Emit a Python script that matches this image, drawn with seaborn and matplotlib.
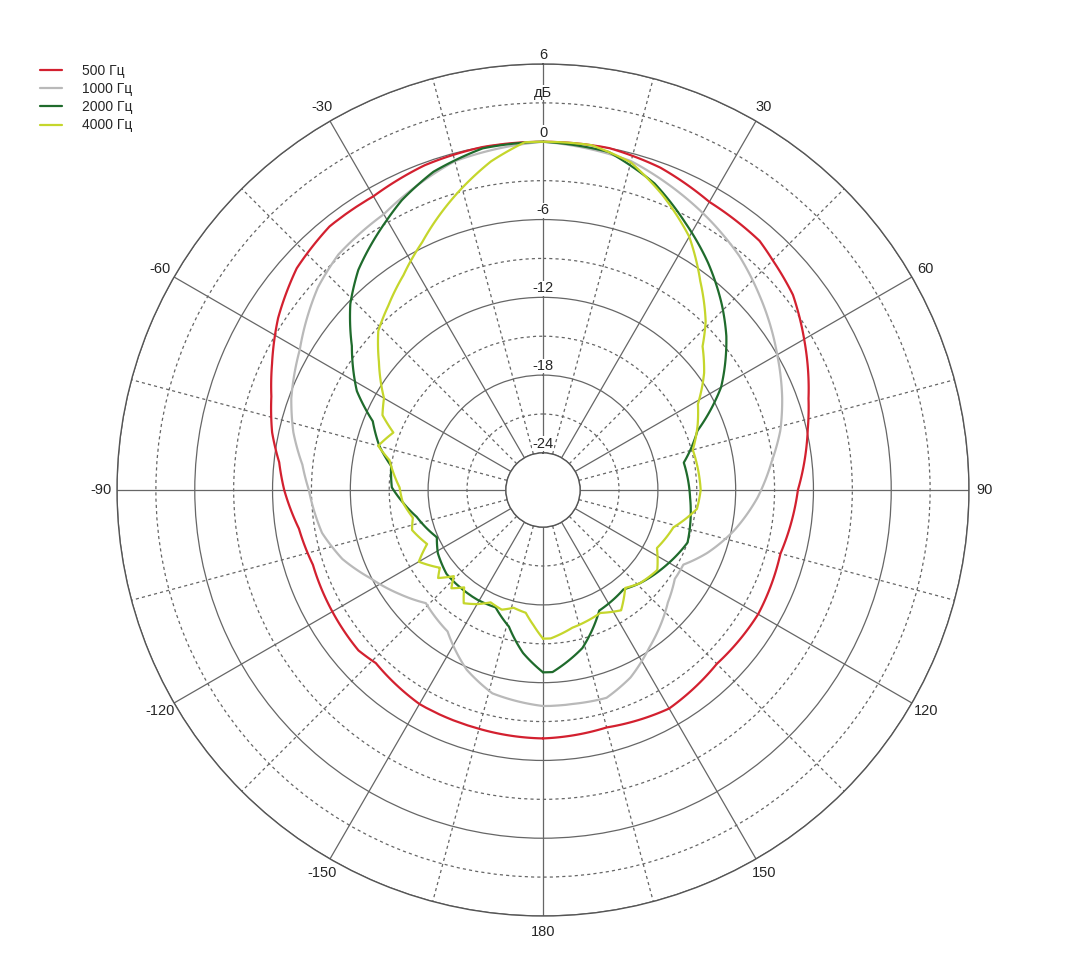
import numpy as np
import pandas as pd
import matplotlib
matplotlib.use('Agg')
import matplotlib.pyplot as plt
import seaborn as sns
from matplotlib.ticker import FixedLocator

# polar response, angle in degrees, level in dB
ang_500 = [-180, -164, -150, -136, -131, -120, -108, -99, -90, -84, -78, -71, -65, -57,
           -48, -39, -30, -20, -10, 0, 11, 20, 25, 30, 41, 45, 52, 60, 71, 77, 90, 105,
           120, 135, 150, 165, 180]
db_500 = [-7.7, -7.8, -7.8, -8.3, -8.0, -8.1, -8.2, -7.8, -6.9, -6.4, -5.5, -4.7, -3.8, -2.5,
          -1.3, -0.7, -0.7, -0.2, 0.0, 0.0, 0.0, -0.4, -0.8, -1.2, -1.4, -1.8, -2.4, -3.6,
          -5.2, -5.9, -7.2, -7.9, -7.7, -7.9, -7.4, -7.9, -7.7]

ang_1000 = [-180, -166, -157, -146, -134, -126, -117, -109, -101, -90, -84, -77, -70, -60,
            -48, -41, -30, -15, 0, 15, 30, 40, 48, 60, 69, 76, 83, 92, 102, 111, 118, 124,
            132, 146, 155, 163, 172, 180]
db_1000 = [-10.2, -10.7, -11.8, -13.7, -14.3, -13.2, -11.9, -10.5, -9.5, -8.8, -8.2, -7.1,
           -6.2, -5.2, -3.5, -2.8, -2.3, -0.6, 0.0, -0.6, -2.2, -3.3, -4.4, -6.0, -7.1, -8.0,
           -9.1, -10.3, -11.8, -13.3, -14.6, -14.6, -13.9, -12.2, -10.9, -10.1, -10.2, -10.2]

ang_2000 = [-180, -173, -166, -158, -149, -139, -131, -121, -114, -102, -95, -89, -81, -75,
            -68, -62, -53, -46, -40, -30, -26, -19, -10, 0, 11, 20, 28, 36, 44, 50, 60, 69,
            79, 93, 110, 121, 134, 141, 155, 166, 177, 180]
db_2000 = [-12.8, -14.2, -16.0, -17.1, -17.0, -17.0, -17.0, -17.4, -17.9, -16.9, -16.0,
           -15.2, -15.0, -13.8, -12.7, -10.6, -8.4, -6.2, -4.7, -2.8, -2.0, -0.9, -0.1, 0.0,
           -0.3, -1.7, -3.5, -5.2, -7.0, -8.4, -11.0, -14.1, -15.8, -15.5, -15.0, -15.7,
           -16.5, -17.0, -16.6, -14.3, -12.8, -12.8]

ang_4000 = [-180, -176, -172, -166, -161, -155, -150, -145, -141, -137, -134, -130, -127,
            -120, -115, -107, -102, -95, -89, -79, -75, -69, -65, -60, -52, -46, -40, -33,
            -26, -21, -16, -9, -3, 0, 8, 15, 22, 30, 37, 44, 48, 54, 61, 67, 75, 90, 97, 106,
            117, 125, 134, 140, 147, 155, 168, 177, 180]
db_4000 = [-15.4, -16.4, -17.3, -17.5, -17.1, -17.3, -16.7, -16.2, -17.2, -16.5, -17.3,
           -16.3, -16.9, -15.8, -17.0, -16.3, -16.6, -16.0, -15.8, -14.8, -13.7, -14.5,
           -13.2, -12.7, -10.8, -9.2, -8.3, -7.1, -5.6, -4.3, -3.0, -1.2, 0.0, 0.0, 0.0,
           -0.7, -2.3, -4.3, -6.7, -8.8, -10.3, -11.5, -13.2, -13.9, -14.9, -14.7, -14.9,
           -16.4, -17.0, -16.1, -16.5, -17.0, -15.8, -16.4, -16.0, -15.4, -15.4]

freqs = ['500 Гц', '1000 Гц', '2000 Гц', '4000 Гц']
colors = {'500 Гц': '#d3202f', '1000 Гц': '#b9b9b9', '2000 Гц': '#1f6b2c', '4000 Гц': '#c5d62c'}

theta_labels = ['', '30', '60', '90', '120', '150', '180', '-150', '-120', '-90', '-60', '-30']
r_ticks = [-24, -18, -12, -6, 0, 6]
r_minor = [-21, -15, -9, -3, 3]

frames = []
for f, a, d in zip(freqs, [ang_500, ang_1000, ang_2000, ang_4000],
                   [db_500, db_1000, db_2000, db_4000]):
    frames.append(pd.DataFrame({'theta': np.deg2rad(a), 'db': d, 'freq': f}))
df = pd.concat(frames, ignore_index=True)

sns.set_style('white')
plt.rcParams['font.family'] = ['Liberation Sans', 'DejaVu Sans']

fig = plt.figure(figsize=(10.73, 9.77), dpi=100)
ax = fig.add_axes([117 / 1073, 1 - 916 / 977, 852 / 1073, 852 / 977], projection='polar')
ax.set_theta_zero_location('N')
ax.set_theta_direction(-1)

sns.lineplot(data=df, x='theta', y='db', hue='freq', hue_order=freqs, palette=colors,
             estimator=None, sort=True, linewidth=1.6, ax=ax)
# draw segments along the polar grid instead of straight chords
for ln in ax.get_lines():
    ln.get_path()._interpolation_steps = 30

ax.set_ylim(-24, 6)
ax.set_rorigin(-24 - 37 / 12.92)
ax.set_yticks(r_ticks)
ax.set_yticklabels([])
ax.yaxis.set_minor_locator(FixedLocator(r_minor))
ax.set_xticks(np.deg2rad(np.arange(0, 360, 30)))
ax.set_xticklabels(theta_labels, fontsize=10.5)
ax.xaxis.set_minor_locator(FixedLocator(np.deg2rad(np.arange(15, 360, 30))))
ax.grid(which='major', color='#666666', linewidth=0.9, linestyle='-')
ax.grid(which='minor', color='#666666', linewidth=0.9, linestyle=(0, (2.5, 2.5)))
ax.tick_params(which='both', length=0)
ax.tick_params(axis='x', pad=4.5)
for s in ax.spines.values():
    s.set_color('#555555')
    s.set_linewidth(1.0)
ax.set_xlabel('')
ax.set_ylabel('')

for v in r_ticks:
    ax.annotate(str(v), xy=(0, v), xytext=(0, 1.5), textcoords='offset points',
                ha='center', va='bottom', fontsize=10.5,
                bbox=dict(facecolor='white', edgecolor='none', pad=0.3))
ax.text(0, 3.8, 'дБ', ha='center', va='center', fontsize=10.5,
        bbox=dict(facecolor='white', edgecolor='none', pad=0.3))

handles, labels = ax.get_legend_handles_labels()
ax.legend_.remove()
fig.legend(handles, labels, loc='upper left', bbox_to_anchor=(40 / 1073, 1 - 64 / 977),
           frameon=False, fontsize=10, handlelength=1.6, handletextpad=1.4,
           labelspacing=0.3, borderpad=0, borderaxespad=0)

fig.savefig('out.png', dpi=100, facecolor='white')
